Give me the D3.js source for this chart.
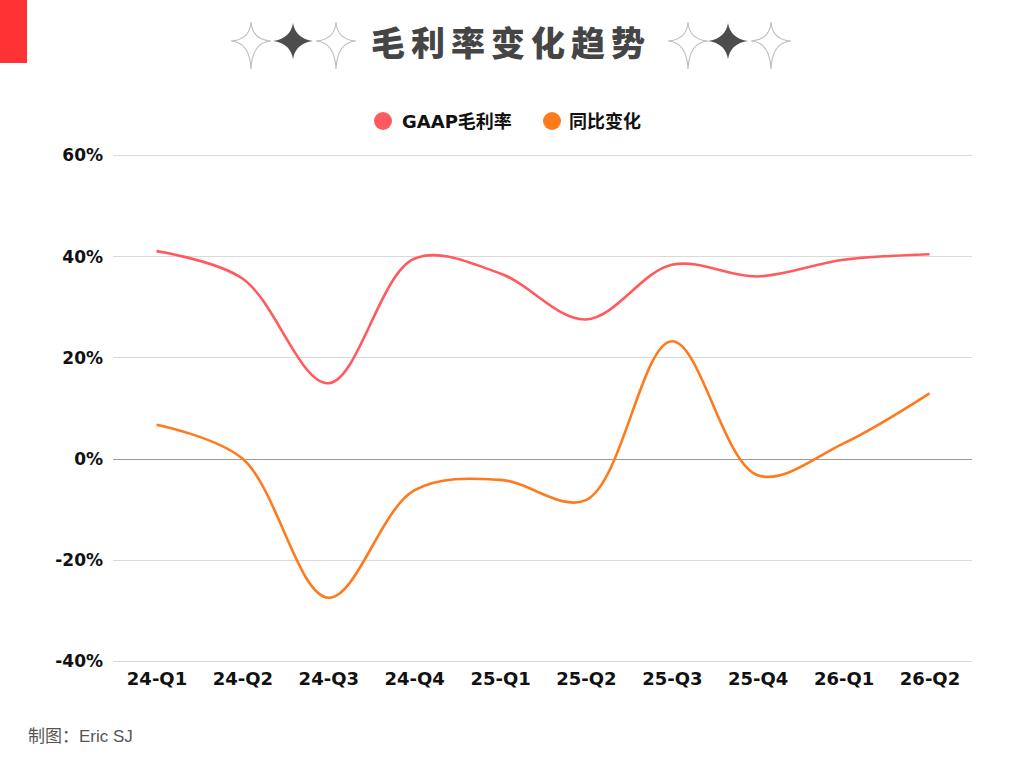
<!DOCTYPE html>
<html><head><meta charset="utf-8">
<script src="https://cdn.jsdelivr.net/npm/d3@7/dist/d3.min.js"></script>
<style>body{margin:0;background:#fff}svg{display:block}</style>
</head><body>
<svg id="c" width="1024" height="768"></svg>
<script>
const categories = ["24-Q1","24-Q2","24-Q3","24-Q4","25-Q1","25-Q2","25-Q3","25-Q4","26-Q1","26-Q2"];
const gaapMargin = [41.0, 35.6, 14.9, 39.5, 36.6, 27.5, 38.3, 36.0, 39.3, 40.4];
const yoyChange = [6.7, 0.0, -27.5, -6.3, -4.2, -8.2, 23.2, -3.3, 3.0, 12.9];
const yTicks = [60, 40, 20, 0, -20, -40];
const seriesNames = ["GAAP毛利率", "同比变化"];
const colors = ["#FF5A5F", "#FF7A1C"];

const svg = d3.select("#c");
const x = d3.scalePoint().domain(categories).range([156.5, 929.5]);
const y = d3.scaleLinear().domain([-40, 60]).range([661, 155]);
const font = "'DejaVu Sans', 'Noto Sans CJK SC', sans-serif";

// red bar
svg.append("rect").attr("x",0).attr("y",0).attr("width",27).attr("height",63).attr("fill","#FF3333");

// title
svg.append("text").attr("x",511).attr("y",56).attr("text-anchor","middle")
  .attr("font-family","'Noto Sans CJK SC', sans-serif").attr("font-weight",900)
  .attr("font-size",34).attr("letter-spacing",6).attr("fill","#454545").text("毛利率变化趋势");

function sparkle(cx, cy, rx, up, down, k, fill, stroke){
  const p = `M${cx},${cy-up} Q${cx+k},${cy-k} ${cx+rx},${cy} Q${cx+k},${cy+k} ${cx},${cy+down} Q${cx-k},${cy+k} ${cx-rx},${cy} Q${cx-k},${cy-k} ${cx},${cy-up}Z`;
  svg.append("path").attr("d",p).attr("fill",fill).attr("stroke",stroke).attr("stroke-width",stroke==="none"?0:1.1);
}
[[251,"o"],[293,"f"],[336,"o"],[688,"o"],[728,"f"],[771,"o"]].forEach(([cx,t])=>{
  if(t==="f") sparkle(cx,41,20,18,18,2.5,"#4d4d4d","none");
  else sparkle(cx,41,20,19,28,1.2,"none","#bdbdbd");
});

// legend
const lg = svg.append("g");
[[383,402,0],[552,569,1]].forEach(([cx,tx,i])=>{
  lg.append("circle").attr("cx",cx).attr("cy",121).attr("r",9).attr("fill",colors[i]);
  lg.append("text").attr("x",tx).attr("y",128).attr("font-family",font).attr("font-weight",700)
    .attr("font-size",18).attr("fill","#111").text(seriesNames[i]);
});

// grid
const g = svg.append("g");
g.selectAll("line.grid").data(yTicks).join("line")
  .attr("x1",113).attr("x2",972).attr("y1",d=>Math.round(y(d))+0.5).attr("y2",d=>Math.round(y(d))+0.5)
  .attr("stroke",d=>d===0?"#9a9a9a":"#d9d9d9").attr("stroke-width",1.2);

// y axis labels
const yAxis = d3.axisLeft(y).tickValues(yTicks).tickFormat(d=>d+"%").tickSize(0).tickPadding(0);
const ya = svg.append("g").attr("transform","translate(103,0)").call(yAxis);
ya.select(".domain").remove();
ya.selectAll("text").attr("font-family",font).attr("font-weight",700).attr("font-size",17).attr("fill","#111").attr("dy","0.35em");

// x axis labels
const xAxis = d3.axisBottom(x).tickSize(0).tickPadding(0);
const xa = svg.append("g").attr("transform","translate(0,670)").call(xAxis);
xa.select(".domain").remove();
xa.selectAll("text").attr("font-family",font).attr("font-weight",700).attr("font-size",18).attr("fill","#111").attr("dy","0.85em");

// lines
const line = d3.line().x((d,i)=>x(categories[i])).y(d=>y(d)).curve(d3.curveCatmullRom.alpha(0.5));
[gaapMargin, yoyChange].forEach((s,i)=>{
  svg.append("path").attr("d",line(s)).attr("fill","none").attr("stroke",colors[i]).attr("stroke-width",2.6);
});

// footer
svg.append("text").attr("x",28).attr("y",742).attr("font-family","'Liberation Sans', 'Noto Sans CJK SC', sans-serif")
  .attr("font-size",17).attr("fill","#555").text("制图：Eric SJ");
</script>
</body></html>
